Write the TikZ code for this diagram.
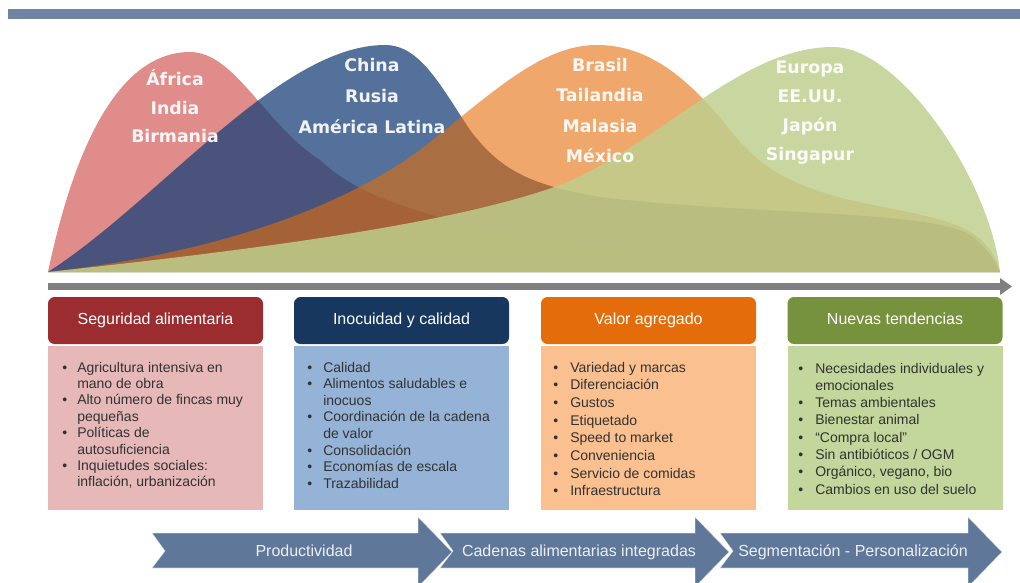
\documentclass[tikz,border=0pt]{standalone}
\usepackage{fontspec}
\setmainfont{Liberation Sans}
\newfontfamily\lblfont{DejaVu Sans}
\definecolor{topbar}{RGB}{111,133,163}
\definecolor{redc}{RGB}{207,78,75}
\definecolor{bluec}{RGB}{25,65,120}
\definecolor{orangec}{RGB}{228,108,10}
\definecolor{greenc}{RGB}{189,207,141}
\definecolor{axisgray}{RGB}{128,128,128}
\definecolor{hred}{RGB}{155,45,48}
\definecolor{hblue}{RGB}{23,55,94}
\definecolor{horange}{RGB}{228,108,10}
\definecolor{hgreen}{RGB}{118,146,60}
\definecolor{bred}{RGB}{230,185,184}
\definecolor{bblue}{RGB}{149,179,215}
\definecolor{borange}{RGB}{250,192,144}
\definecolor{bgreen}{RGB}{195,214,155}
\definecolor{txtgray}{RGB}{50,50,50}
\definecolor{chevblue}{RGB}{95,119,153}
\definecolor{chevtxtc}{RGB}{235,240,245}
\newcommand\bulletlist[6]{%
  \foreach \b/\t [count=\i] in {#6} {%
    \node (#1t\i) [itemtxt] at (#3,{#4+#5*(\i-1)}) {\t};
    \ifnum\b=1 \node (#1b\i) [itemtxt] at (#2,{#4+#5*(\i-1)}) {\textbullet}; \fi
  }}
\begin{document}
\begin{tikzpicture}[x=0.75pt,y=-0.75pt,
  hdr/.style={rounded corners=5pt, minimum width=161.25pt, minimum height=35.25pt, inner sep=0pt, text height=8.6pt, text depth=2.6pt, text=white, font=\fontsize{12}{14}\selectfont},
  bodybox/.style={minimum width=161.25pt, minimum height=123pt, inner sep=0pt},
  itemtxt/.style={anchor=base west, inner sep=0pt, text=txtgray, font=\fontsize{10.5}{12}\selectfont},
  lbl/.style={align=center, inner sep=0pt, text=white, text opacity=.92},
  chev/.style={fill=chevblue, draw=white, draw opacity=.55, line width=.5pt},
  chevtxt/.style={text=chevtxtc, inner sep=0pt, text height=8.6pt, text depth=2.6pt, font=\fontsize{12}{14}\selectfont}
]
\useasboundingbox (0,0) rectangle (1020,582);
\clip (0,0) rectangle (1020,582);
% top bar
\fill[topbar] (8,9) rectangle (1020,18.5);
% curves
\fill[redc, fill opacity=.65] (48,272) .. controls (80,120) and (130,52) .. (190,52) .. controls (235,52) and (265,125) .. (320,160) .. controls (360,198) and (420,212) .. (480,228) .. controls (600,255) and (800,268) .. (1000,272) -- cycle;
\fill[bluec, fill opacity=.75] (48,272) .. controls (160,200) and (280,45) .. (385,45) .. controls (420,45) and (440,85) .. (470,130) .. controls (500,170) and (530,185) .. (600,197) .. controls (750,215) and (930,210) .. (970,235) .. controls (990,250) and (995,262) .. (1000,272) -- cycle;
\fill[orangec, fill opacity=.6] (48,272) .. controls (200,255) and (330,215) .. (420,150) .. controls (490,95) and (540,45) .. (597,45) .. controls (650,45) and (690,80) .. (730,130) .. controls (760,168) and (790,185) .. (850,200) .. controls (940,220) and (985,220) .. (1000,272) -- cycle;
\fill[greenc, fill opacity=.83] (48,272) .. controls (250,250) and (450,225) .. (560,185) .. controls (660,145) and (740,47) .. (833,47) .. controls (900,47) and (990,180) .. (1000,272) -- cycle;
% curve labels
\node (lred) [lbl, font=\lblfont\bfseries\fontsize{13}{21.4}\selectfont] at (175,106.5) {África\\India\\Birmania};
\node (lblue) [lbl, font=\lblfont\bfseries\fontsize{13}{23.2}\selectfont] at (372,96) {China\\Rusia\\América Latina};
\node (lorange) [lbl, font=\lblfont\bfseries\fontsize{13}{22.7}\selectfont] at (600,110.5) {Brasil\\Tailandia\\Malasia\\México};
\node (lgreen) [lbl, font=\lblfont\bfseries\fontsize{13}{21.7}\selectfont] at (810,112.5) {Europa\\EE.UU.\\Japón\\Singapur};
% axis
\fill[axisgray] (48,283) rectangle (1001,290);
\fill[axisgray] (1000,278) -- (1012,286.5) -- (1000,295) -- cycle;
% headers
\node (h1) [hdr, fill=hred] at (155.5,320.5) {Seguridad alimentaria};
\node (h2) [hdr, fill=hblue] at (401.5,320.5) {Inocuidad y calidad};
\node (h3) [hdr, fill=horange] at (648.5,320.5) {Valor agregado};
\node (h4) [hdr, fill=hgreen] at (895,320.5) {Nuevas tendencias};
% bodies
\node (b1) [bodybox, fill=bred] at (155.5,428) {};
\node (b2) [bodybox, fill=bblue] at (401.5,428) {};
\node (b3) [bodybox, fill=borange] at (648.5,428) {};
\node (b4) [bodybox, fill=bgreen] at (895,428) {};
% bullet lists
\bulletlist{a}{62}{77}{372}{16.4}{1/Agricultura intensiva en, 0/mano de obra, 1/Alto número de fincas muy, 0/pequeñas, 1/Políticas de, 0/autosuficiencia, 1/Inquietudes sociales:, 0/{inflación, urbanización}}
\bulletlist{c}{307}{323}{372}{16.6}{1/Calidad, 1/Alimentos saludables e, 0/inocuos, 1/Coordinación de la cadena, 0/de valor, 1/Consolidación, 1/Economías de escala, 1/Trazabilidad}
\bulletlist{v}{553}{570}{372}{17.7}{1/Variedad y marcas, 1/Diferenciación, 1/Gustos, 1/Etiquetado, 1/Speed to market, 1/Conveniencia, 1/Servicio de comidas, 1/Infraestructura}
\bulletlist{n}{798}{815}{373}{17.3}{1/Necesidades individuales y, 0/emocionales, 1/Temas ambientales, 1/Bienestar animal, 1/“Compra local”, 1/{Sin antibióticos / OGM}, 1/{Orgánico, vegano, bio}, 1/Cambios en uso del suelo}
% chevrons
\filldraw[chev] (152,533) -- (418,533) -- (418,517) -- (452,552) -- (418,587) -- (418,568) -- (152,568) -- (165,551) -- cycle;
\filldraw[chev] (440,533) -- (695,533) -- (695,517) -- (729,552) -- (695,587) -- (695,568) -- (440,568) -- (453,551) -- cycle;
\filldraw[chev] (720,533) -- (968,533) -- (968,517) -- (1002,552) -- (968,587) -- (968,568) -- (720,568) -- (733,551) -- cycle;
\node (c1) [chevtxt] at (304,552) {Productividad};
\node (c2) [chevtxt] at (579,552) {Cadenas alimentarias integradas};
\node (c3) [chevtxt] at (853,552) {Segmentación - Personalización};
\end{tikzpicture}
\end{document}
